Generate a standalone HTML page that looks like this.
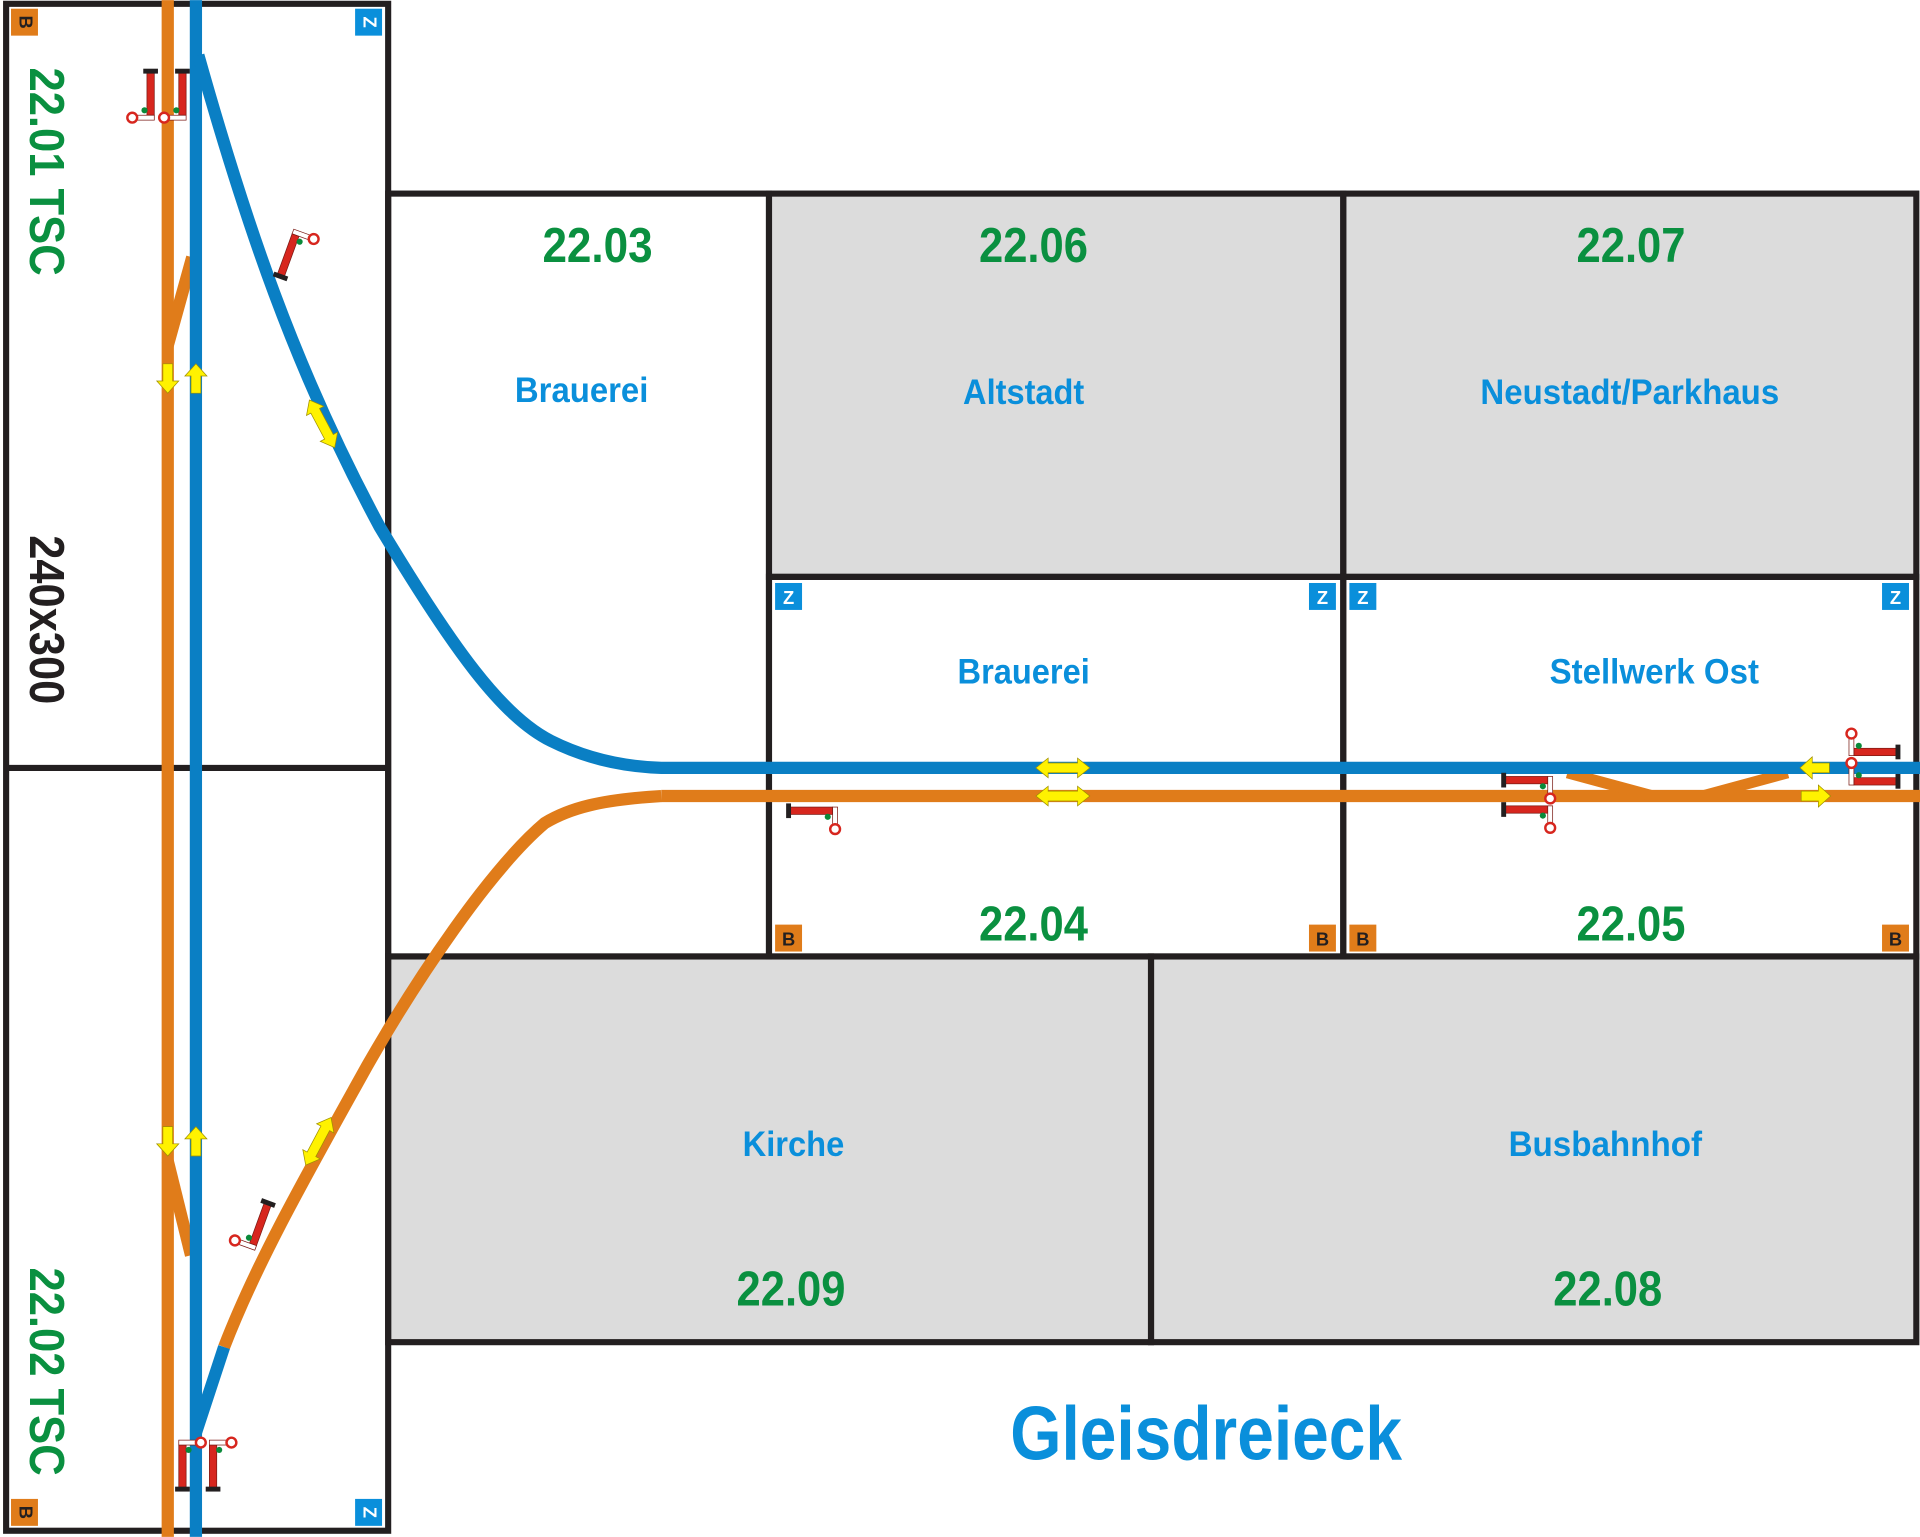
<!DOCTYPE html>
<html><head><meta charset="utf-8"><style>
html,body{margin:0;padding:0;background:#fff}
svg{display:block}
text{font-family:"Liberation Sans Narrow","Liberation Sans",sans-serif;font-weight:bold}
</style></head><body>
<svg width="1920" height="1537" viewBox="0 0 1568 1255" xmlns="http://www.w3.org/2000/svg">
<defs>
<g id="sigV"><rect x="-2" y="0" width="6" height="36" fill="#d7261e" stroke="#7a1a14" stroke-width="0.6"/><rect x="-5" y="-2" width="12" height="4" fill="#231f20"/><rect x="-14" y="36" width="18" height="4" fill="#fff" stroke="#7a1a14" stroke-width="0.6"/><circle cx="-14" cy="38" r="4" fill="#fff" stroke="#d7261e" stroke-width="2"/><circle cx="-4" cy="32" r="2.5" fill="#0a8a3a"/></g>
<g id="sigH"><rect x="0" y="-3" width="36" height="6" fill="#d7261e" stroke="#7a1a14" stroke-width="0.6"/><rect x="-2" y="-6" width="4" height="12" fill="#231f20"/><rect x="36" y="-3" width="4" height="18" fill="#fff" stroke="#7a1a14" stroke-width="0.6"/><circle cx="38" cy="15" r="4" fill="#fff" stroke="#d7261e" stroke-width="2"/><circle cx="32" cy="5" r="2.5" fill="#0a8a3a"/></g>
<polygon id="arR" points="-12,-4 2,-4 2,-9 12,0 2,9 2,4 -12,4" fill="#fff200" stroke="#a09000" stroke-width="0.6"/>
<polygon id="arLR" points="-22,0 -12,-8 -12,-4 12,-4 12,-8 22,0 12,8 12,4 -12,4 -12,8" fill="#fff200" stroke="#a09000" stroke-width="0.6"/>
</defs>
<rect x="628" y="158" width="937" height="313" fill="#dcdcdc"/>
<rect x="317" y="781" width="1248" height="315" fill="#dcdcdc"/>
<g fill="none" stroke="#231f20" stroke-width="5">
<rect x="5" y="3" width="312" height="1247"/>
<line x1="5" y1="627" x2="317" y2="627"/>
<rect x="317" y="158" width="311" height="623"/>
<rect x="628" y="158" width="469" height="313"/>
<rect x="1097" y="158" width="468" height="313"/>
<rect x="628" y="471" width="469" height="310"/>
<rect x="1097" y="471" width="468" height="310"/>
<rect x="317" y="781" width="623" height="315"/>
<rect x="940" y="781" width="625" height="315"/>
</g>
<g fill="none" stroke-width="10">
<path d="M137 0 V1255" stroke="#e07c1a"/>
<path d="M137 282 L157 210" stroke="#e07c1a"/>
<path d="M137 948 L156 1025" stroke="#e07c1a"/>
<path d="M540 650 H1568" stroke="#e07c1a"/>
<path d="M540 650 C490 653 465 660 445 672 C400 710 340 800 300 870 C250 960 210 1030 183 1100" stroke="#e07c1a"/>
<path d="M183 1100 L160 1170" stroke="#0a7fc4"/>
<path d="M1280 631 L1350 650 M1390 650 L1460 631" stroke="#e07c1a" stroke-width="9"/>
<path d="M160 0 V1255" stroke="#0a7fc4"/>
<path d="M162 45 C200 180 240 300 310 430 C370 530 410 585 450 605 C480 620 510 626 540 627 H1568" stroke="#0a7fc4"/>
</g>
<g font-size="15" text-anchor="middle">
<rect x="9" y="7" width="22" height="22" fill="#e07c1a"/><text x="20" y="18" transform="rotate(90 20 18)" dominant-baseline="middle" fill="#231f20">B</text>
<rect x="290" y="7" width="22" height="22" fill="#0a8fdb"/><text x="301" y="18" transform="rotate(90 301 18)" dominant-baseline="middle" fill="#fff">Z</text>
<rect x="9" y="1224" width="22" height="22" fill="#e07c1a"/><text x="20" y="1235" transform="rotate(90 20 1235)" dominant-baseline="middle" fill="#231f20">B</text>
<rect x="290" y="1224" width="22" height="22" fill="#0a8fdb"/><text x="301" y="1235" transform="rotate(90 301 1235)" dominant-baseline="middle" fill="#fff">Z</text>
<rect x="633" y="476" width="22" height="22" fill="#0a8fdb"/><text x="644" y="493" fill="#fff">Z</text>
<rect x="1069" y="476" width="22" height="22" fill="#0a8fdb"/><text x="1080" y="493" fill="#fff">Z</text>
<rect x="1102" y="476" width="22" height="22" fill="#0a8fdb"/><text x="1113" y="493" fill="#fff">Z</text>
<rect x="1537" y="476" width="22" height="22" fill="#0a8fdb"/><text x="1548" y="493" fill="#fff">Z</text>
<rect x="633" y="755" width="22" height="22" fill="#e07c1a"/><text x="644" y="772" fill="#231f20">B</text>
<rect x="1069" y="755" width="22" height="22" fill="#e07c1a"/><text x="1080" y="772" fill="#231f20">B</text>
<rect x="1102" y="755" width="22" height="22" fill="#e07c1a"/><text x="1113" y="772" fill="#231f20">B</text>
<rect x="1537" y="755" width="22" height="22" fill="#e07c1a"/><text x="1548" y="772" fill="#231f20">B</text>
</g>
<use href="#arR" transform="translate(137,309) rotate(90)"/>
<use href="#arR" transform="translate(160,309) rotate(-90)"/>
<use href="#arR" transform="translate(137,932) rotate(90)"/>
<use href="#arR" transform="translate(160,932) rotate(-90)"/>
<use href="#arLR" transform="translate(263,346) rotate(62)"/>
<use href="#arLR" transform="translate(260,932) rotate(-62)"/>
<use href="#arLR" transform="translate(868,627)"/>
<use href="#arLR" transform="translate(868,650)"/>
<use href="#arR" transform="translate(1482,627) rotate(180)"/>
<use href="#arR" transform="translate(1483,650)"/>
<use href="#sigV" transform="translate(122,58)"/>
<use href="#sigV" transform="translate(148,58)"/>
<use href="#sigV" transform="translate(230,226) rotate(-160)"/>
<use href="#sigV" transform="translate(150,1216) rotate(180)"/>
<use href="#sigV" transform="translate(175,1216) rotate(180)"/>
<use href="#sigV" transform="translate(218,982) rotate(20)"/>
<use href="#sigH" transform="translate(644,662)"/>
<use href="#sigH" transform="translate(1228,637)"/>
<use href="#sigH" transform="translate(1228,661)"/>
<use href="#sigH" transform="translate(1550,614) rotate(180)"/>
<use href="#sigH" transform="translate(1550,638) rotate(180)"/>
<g fill="#0a9040" font-size="40" text-anchor="middle" lengthAdjust="spacingAndGlyphs">
<text x="488" y="214" textLength="90" lengthAdjust="spacingAndGlyphs">22.03</text>
<text x="844" y="214" textLength="89" lengthAdjust="spacingAndGlyphs">22.06</text>
<text x="1332" y="214" textLength="89" lengthAdjust="spacingAndGlyphs">22.07</text>
<text x="844" y="768" textLength="89" lengthAdjust="spacingAndGlyphs">22.04</text>
<text x="1332" y="768" textLength="89" lengthAdjust="spacingAndGlyphs">22.05</text>
<text x="646" y="1066" textLength="89" lengthAdjust="spacingAndGlyphs">22.09</text>
<text x="1313" y="1066" textLength="89" lengthAdjust="spacingAndGlyphs">22.08</text>
<text transform="translate(35,140) rotate(90)" dominant-baseline="middle" textLength="170" lengthAdjust="spacingAndGlyphs">22.01 TSC</text>
<text transform="translate(35,1120) rotate(90)" dominant-baseline="middle" textLength="170" lengthAdjust="spacingAndGlyphs">22.02 TSC</text>
</g>
<text transform="translate(35,506) rotate(90)" dominant-baseline="middle" text-anchor="middle" font-size="40" fill="#231f20" textLength="138" lengthAdjust="spacingAndGlyphs">240x300</text>
<g fill="#0a8fdb" font-size="29" text-anchor="middle">
<text x="475" y="328" textLength="109" lengthAdjust="spacingAndGlyphs">Brauerei</text>
<text x="836" y="330" textLength="99" lengthAdjust="spacingAndGlyphs">Altstadt</text>
<text x="1331" y="330" textLength="244" lengthAdjust="spacingAndGlyphs">Neustadt/Parkhaus</text>
<text x="836" y="558" textLength="108" lengthAdjust="spacingAndGlyphs">Brauerei</text>
<text x="1351" y="558" textLength="171" lengthAdjust="spacingAndGlyphs">Stellwerk Ost</text>
<text x="648" y="944" textLength="83" lengthAdjust="spacingAndGlyphs">Kirche</text>
<text x="1311" y="944" textLength="158" lengthAdjust="spacingAndGlyphs">Busbahnhof</text>
<text x="985" y="1192" font-size="62" textLength="320" lengthAdjust="spacingAndGlyphs">Gleisdreieck</text>
</g>
</svg>
</body></html>
